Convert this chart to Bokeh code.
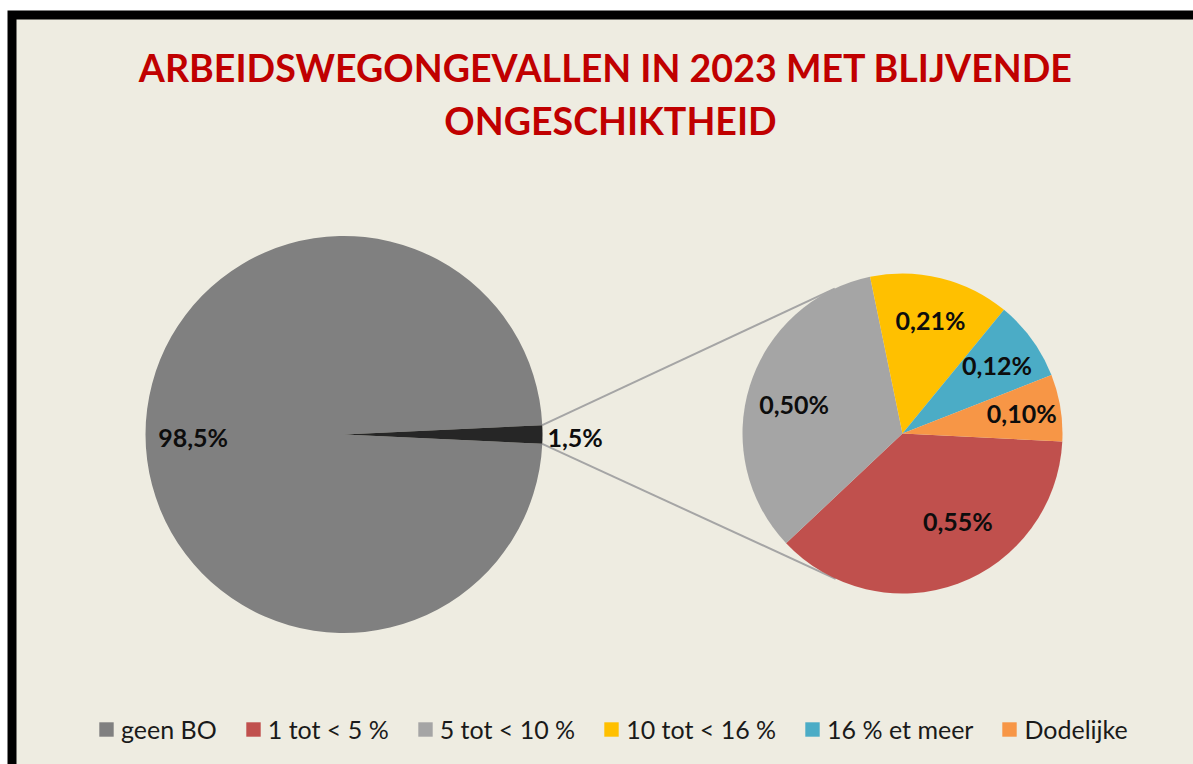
import math
from bokeh.plotting import figure
from bokeh.models import Range1d, Legend, LegendItem, ColumnDataSource
from bokeh.core.properties import value
from bokeh.embed import file_html
from bokeh.resources import INLINE

# ---------------- data ----------------
title_lines = ["ARBEIDSWEGONGEVALLEN  IN 2023 MET BLIJVENDE", "ONGESCHIKTHEID"]
main_labels = ["geen BO", "BO"]
main_values = [98.5, 1.5]
detail_labels = ["1 tot < 5 %", "5 tot < 10 %", "10 tot < 16 %", "16 % et meer", "Dodelijke"]
detail_values = [0.55, 0.50, 0.21, 0.12, 0.10]

# ---------------- style ----------------
main_colors = ["#808080", "#262626"]
detail_colors = ["#C0504D", "#A5A5A5", "#FFC000", "#4BACC6", "#F79646"]
BG = "#EEECE1"
TITLE_RED = "#C00000"
FONT = "Lato"

W, H = 1193, 764


def fx(px):
    return px


def fy(py):
    return H - py


p = figure(width=W, height=H, x_range=Range1d(0, W), y_range=Range1d(0, H),
           output_backend="svg", toolbar_location=None, min_border=0,
           x_axis_location=None, y_axis_location=None,
           outline_line_color=None, background_fill_color="white",
           border_fill_color="white")
p.grid.visible = False

# chart area frame
p.quad(left=[fx(11.5)], right=[W + 60], top=[fy(14.5)], bottom=[-60],
       fill_color=BG, line_color="black", line_width=9, line_join="miter")

# title (cap-centre positions)
p.text(x=[fx(610)] * 2, y=[fy(67), fy(120)], text=title_lines,
       text_font=value(FONT), text_font_style="bold", text_font_size="37.6px",
       text_color=TITLE_RED, text_align="center", text_baseline="middle")

# ---------------- main pie ----------------
cx1, cy1, R1 = fx(343.5), fy(434), 198.5
tot1 = sum(main_values)
half = math.pi * main_values[1] / tot1
main_start = [half, -half]
main_end = [2 * math.pi - half, half]

# ---------------- detail pie ----------------
cx2, cy2, R2 = fx(902), fy(433), 160
tot2 = sum(detail_values)
a0 = math.radians(-2.9)
d_start, d_end = [], []
cum = 0.0
for v in detail_values:
    d_start.append(a0 - 2 * math.pi * cum / tot2)
    cum += v
    d_end.append(a0 - 2 * math.pi * cum / tot2)

# connector lines (tangents from slice edges to the detail pie)
x0s, y0s, x1s, y1s = [], [], [], []
for sgn in (1, -1):
    px = cx1 + R1 * math.cos(sgn * half)
    py = cy1 + R1 * math.sin(sgn * half)
    vx, vy = px - cx2, py - cy2
    d = math.hypot(vx, vy)
    phi = math.atan2(vy, vx)
    alpha = math.acos(R2 / d)
    ang = phi - alpha if sgn == 1 else phi + alpha
    x0s.append(px)
    y0s.append(py)
    x1s.append(cx2 + R2 * math.cos(ang))
    y1s.append(cy2 + R2 * math.sin(ang))
p.segment(x0=x0s, y0=y0s, x1=x1s, y1=y1s, line_color="#A5A5A5", line_width=2)

src1 = ColumnDataSource(dict(start=main_start, end=main_end, color=main_colors, label=main_labels))
big_r = p.wedge(x=cx1, y=cy1, radius=R1, start_angle="start", end_angle="end",
                fill_color="color", line_color=None, source=src1)

src2 = ColumnDataSource(dict(start=d_start, end=d_end, color=detail_colors, label=detail_labels))
small_r = p.wedge(x=cx2, y=cy2, radius=R2, start_angle="start", end_angle="end",
                  direction="clock", fill_color="color", line_color=None, source=src2)

# ---------------- data labels ----------------
def fmt(v, nd):
    return f"{v:.{nd}f}".replace(".", ",") + "%"

lab_x, lab_y, lab_t, lab_align = [], [], [], []
# main pie: large slice label inside, small slice label just outside
mid_big = (main_start[0] + main_end[0]) / 2
lab_x.append(cx1 + 0.76 * R1 * math.cos(mid_big))
lab_y.append(cy1 + 0.76 * R1 * math.sin(mid_big) - 2)
lab_t.append(fmt(main_values[0], 1))
lab_align.append("center")
lab_x.append(cx1 + R1 + 5)
lab_y.append(cy1 - 2)
lab_t.append(fmt(main_values[1], 1))
lab_align.append("left")

nudges = [(15, 22), (3, -6), (0, 0), (0, 0), (4, 2)]
for s, e, v, (nx, ny) in zip(d_start, d_end, detail_values, nudges):
    m = (s + e) / 2
    lab_x.append(cx2 + 0.73 * R2 * math.cos(m) + nx)
    lab_y.append(cy2 + 0.73 * R2 * math.sin(m) + ny)
    lab_t.append(fmt(v, 2))
    lab_align.append("center")

p.text(x=lab_x, y=lab_y, text=lab_t, text_align=lab_align,
       text_font=value(FONT), text_font_style="bold", text_font_size="25px",
       text_color="#0d0d0d", text_baseline="middle")

# ---------------- legend ----------------
items = [LegendItem(label=main_labels[0], renderers=[big_r], index=0)]
items += [LegendItem(label=l, renderers=[small_r], index=i) for i, l in enumerate(detail_labels)]
legend = Legend(items=items, orientation="horizontal", location=(97, 20),
                glyph_width=18, glyph_height=18, label_standoff=6, spacing=27,
                padding=0, margin=0, border_line_color=None, background_fill_alpha=0,
                label_text_font=FONT, label_text_font_size="25px",
                label_text_color="#1a1a1a")
p.add_layout(legend)

open("out.html", "w").write(file_html(p, INLINE))
